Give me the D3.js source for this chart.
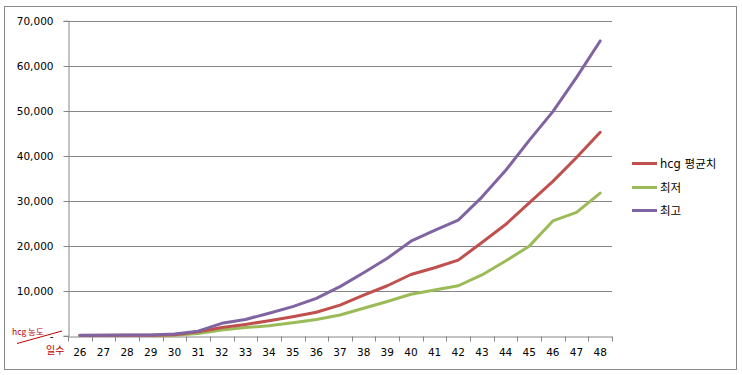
<!DOCTYPE html>
<html><head><meta charset="utf-8">
<script src="https://cdn.jsdelivr.net/npm/d3@7"></script>
<style>body{margin:0;background:#fff}svg{display:block}</style>
</head><body><div id="c"></div>
<script>
const days = ["26","27","28","29","30","31","32","33","34","35","36","37","38","39","40","41","42","43","44","45","46","47","48"];
const avgValues = [60,80,100,120,200,900,1800,2500,3300,4200,5200,6800,9000,11100,13600,15100,16800,20700,24700,29500,34300,39600,45200];
const minValues = [30,40,50,60,100,500,1250,1800,2200,2900,3600,4600,6100,7600,9200,10150,11100,13500,16600,19900,25500,27400,31700];
const maxValues = [100,120,150,180,400,1000,2750,3600,5000,6450,8300,10900,14000,17200,21000,23400,25700,30800,36700,43400,49800,57400,65500];
const seriesNames = ["hcg 평균치","최저","최고"];
const yTicks = [0,10000,20000,30000,40000,50000,60000,70000];

const W=742,H=375;
const colors=["#C0504D","#9BBB59","#8064A2"];
const font="'DejaVu Sans','Noto Sans CJK KR',sans-serif";
const kfont="'Noto Sans CJK KR','DejaVu Sans',sans-serif";
const svg=d3.select("#c").append("svg").attr("width",W).attr("height",H);
svg.append("rect").attr("x",4.5).attr("y",6.5).attr("width",732).attr("height",363)
  .attr("fill","#fff").attr("stroke","#888").attr("stroke-width",1);

const L=68,R=612,T=20.7,B=335.7;
const x=d3.scaleBand().domain(days).range([L,R]);
const y=d3.scaleLinear().domain([0,70000]).range([B,T]);

// gridlines
svg.append("g").selectAll("line").data(yTicks.filter(d=>d>0)).join("line")
  .attr("x1",L).attr("x2",R).attr("y1",d=>Math.round(y(d))+0.5).attr("y2",d=>Math.round(y(d))+0.5)
  .attr("stroke","#868686").attr("stroke-width",1);

// y axis
const ya=svg.append("g").attr("transform",`translate(${L+0.5},0)`)
  .call(d3.axisLeft(y).tickValues(yTicks).tickSize(5).tickPadding(10)
    .tickFormat(d=>d===0?"-":d3.format(",")(d)));
ya.select(".domain").attr("stroke","#868686");
ya.selectAll(".tick line").attr("stroke","#868686");
ya.selectAll(".tick").attr("transform",d=>`translate(0,${Math.round(y(d))+0.5})`);
ya.selectAll("text").attr("font-family",font).attr("font-size","10.5px").attr("fill","#000");

// x axis
const xa=svg.append("g").attr("transform",`translate(0,${Math.round(B)+0.5})`)
  .call(d3.axisBottom(x).tickSize(0).tickPadding(12));
xa.select(".domain").attr("stroke","#868686");
xa.selectAll("text").attr("font-family",font).attr("font-size","10.5px").attr("fill","#000");
const bounds=days.map(d=>x(d)).concat([R]);
xa.append("g").selectAll("line").data(bounds).join("line")
  .attr("x1",d=>Math.round(d)+0.5).attr("x2",d=>Math.round(d)+0.5).attr("y1",0).attr("y2",5)
  .attr("stroke","#868686");

// lines
const all=[avgValues,minValues,maxValues];
const line=d3.line().x((d,i)=>x(days[i])+x.bandwidth()/2).y(d=>y(d));
[1,0,2].forEach(k=>{
  svg.append("path").datum(all[k]).attr("d",line).attr("fill","none")
    .attr("stroke",colors[k]).attr("stroke-width",3).attr("stroke-linejoin","round").attr("stroke-linecap","round");
});

// legend
const lg=svg.append("g");
const ly=[163.5,187.5,210.5];
seriesNames.forEach((n,i)=>{
  lg.append("line").attr("x1",632).attr("x2",657).attr("y1",ly[i]).attr("y2",ly[i])
    .attr("stroke",colors[i]).attr("stroke-width",3);
  lg.append("text").attr("x",660).attr("y",ly[i]+4.5).text(n)
    .attr("font-family",font).attr("font-size","11.5px").attr("fill","#000");
});

// corner annotation
svg.append("line").attr("x1",17).attr("y1",343.5).attr("x2",62).attr("y2",331)
  .attr("stroke","#C00000").attr("stroke-width",1);
svg.append("text").attr("x",12).attr("y",334.5).text("hcg 농도")
  .attr("font-family",kfont).attr("font-size","8.5px").attr("fill","#C00000");
svg.append("text").attr("x",46).attr("y",354).text("일수")
  .attr("font-family",kfont).attr("font-size","10px").attr("fill","#C00000");
</script></body></html>
